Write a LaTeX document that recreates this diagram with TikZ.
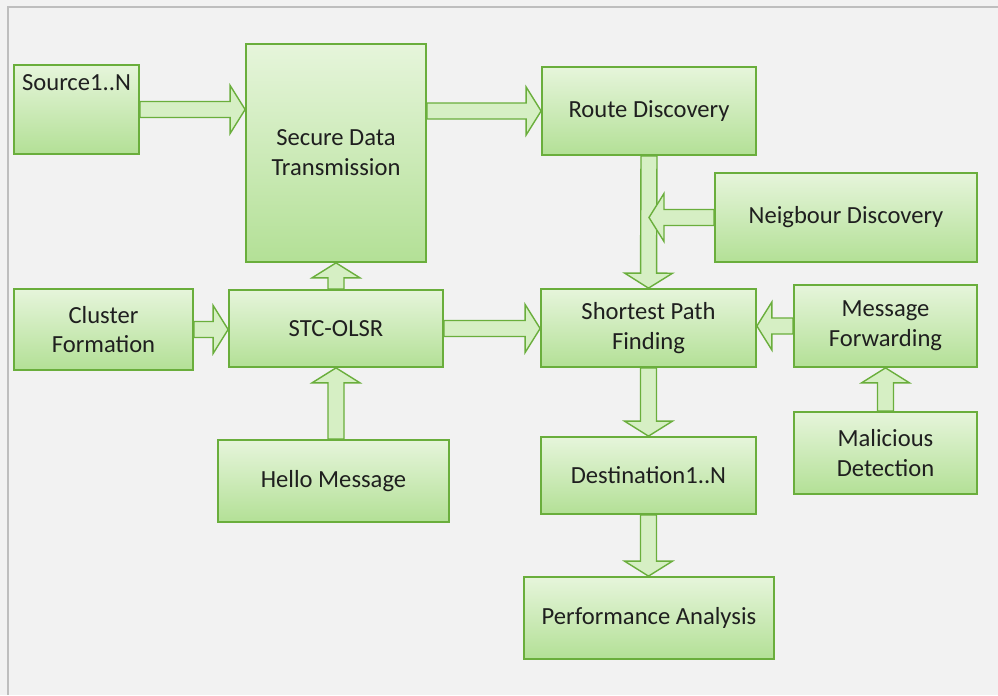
\documentclass[tikz,border=0pt]{standalone}
\usepackage{fontspec}
\setmainfont{Carlito}
\usepackage{tikz}
\usetikzlibrary{calc}

\definecolor{boxtop}{HTML}{E6F5DB}
\definecolor{boxbottom}{HTML}{B3E096}
\definecolor{boxedge}{HTML}{6AAE3C}
\definecolor{arrowfill}{HTML}{D6EFC4}
\definecolor{paper}{HTML}{F2F2F2}
\definecolor{frameline}{HTML}{BEBEBE}

\begin{document}
\begin{tikzpicture}[
    box/.style={draw=boxedge, line width=1pt, top color=boxtop, bottom color=boxbottom,
                inner sep=0pt, align=center, text=black!88,
                font=\fontsize{14pt}{17pt}\selectfont},
    fatarrow/.style={draw=boxedge, fill=arrowfill, line width=0.8pt,
      to path={
        ($(\tikztostart)!0.16cm!90:(\tikztotarget)$)
        -- ($(\tikztotarget)!0.3cm!(\tikztostart)!0.16cm!-90:(\tikztostart)$)
        -- ($(\tikztotarget)!0.3cm!(\tikztostart)!0.48cm!-90:(\tikztostart)$)
        -- (\tikztotarget)
        -- ($(\tikztotarget)!0.3cm!(\tikztostart)!0.48cm!90:(\tikztostart)$)
        -- ($(\tikztotarget)!0.3cm!(\tikztostart)!0.16cm!90:(\tikztostart)$)
        -- ($(\tikztostart)!0.16cm!-90:(\tikztotarget)$)
        -- cycle}}]

   \fill[paper] (0,0) rectangle (19.96,-13.9);
   \useasboundingbox (0,0) rectangle (19.96,-13.9);
   \draw[frameline, line width=0.8pt] (19.96,-0.14) -- (0.16,-0.14) -- (0.16,-13.9);

   % blocks
   \node[box, minimum width=2.5cm, minimum height=1.78cm,
         text height=0.5cm, text depth=1.28cm] (src) at (1.53,-2.19) {Source1..N};
   \node[box, minimum width=3.6cm, minimum height=4.36cm] (sdt) at (6.72,-3.06) {Secure Data\\Transmission};
   \node[box, minimum width=4.28cm, minimum height=1.76cm] (rd) at (12.98,-2.22) {Route Discovery};
   \node[box, minimum width=5.24cm, minimum height=1.78cm] (nd) at (16.92,-4.35) {Neigbour Discovery};
   \node[box, minimum width=3.58cm, minimum height=1.62cm] (cf) at (2.07,-6.59) {Cluster\\Formation};
   \node[box, minimum width=4.28cm, minimum height=1.54cm] (stc) at (6.72,-6.57) {STC-OLSR};
   \node[box, minimum width=4.3cm, minimum height=1.56cm] (spf) at (12.97,-6.56) {Shortest Path\\Finding};
   \node[box, minimum width=3.66cm, minimum height=1.64cm] (mf) at (17.71,-6.52) {Message\\Forwarding};
   \node[box, minimum width=4.62cm, minimum height=1.64cm] (hm) at (6.67,-9.62) {Hello Message};
   \node[box, minimum width=4.3cm, minimum height=1.54cm] (dst) at (12.97,-9.51) {Destination1..N};
   \node[box, minimum width=3.66cm, minimum height=1.64cm] (md) at (17.71,-9.06) {Malicious\\Detection};
   \node[box, minimum width=5cm, minimum height=1.64cm] (pa) at (12.98,-12.36) {Performance Analysis};

   % block arrows
   \draw[fatarrow] (src.east) to (sdt.west |- src.east);
   \draw[fatarrow] (sdt.east |- rd.west) to (rd.west);
   \draw[fatarrow] (rd.south) to (spf.north);
   \draw[fatarrow] (nd.west) to (rd.south |- nd.west);
   \draw[fatarrow] (cf.east) to (stc.west |- cf.east);
   \draw[fatarrow] (stc.north) to (sdt.south);
   \draw[fatarrow] (hm.north -| stc.south) to (stc.south);
   \draw[fatarrow] (stc.east) to (spf.west |- stc.east);
   \draw[fatarrow] (mf.west) to (spf.east |- mf.west);
   \draw[fatarrow] (md.north) to (mf.south);
   \draw[fatarrow] (spf.south) to (dst.north);
   \draw[fatarrow] (dst.south) to (pa.north -| dst.south);

\end{tikzpicture}
\end{document}
